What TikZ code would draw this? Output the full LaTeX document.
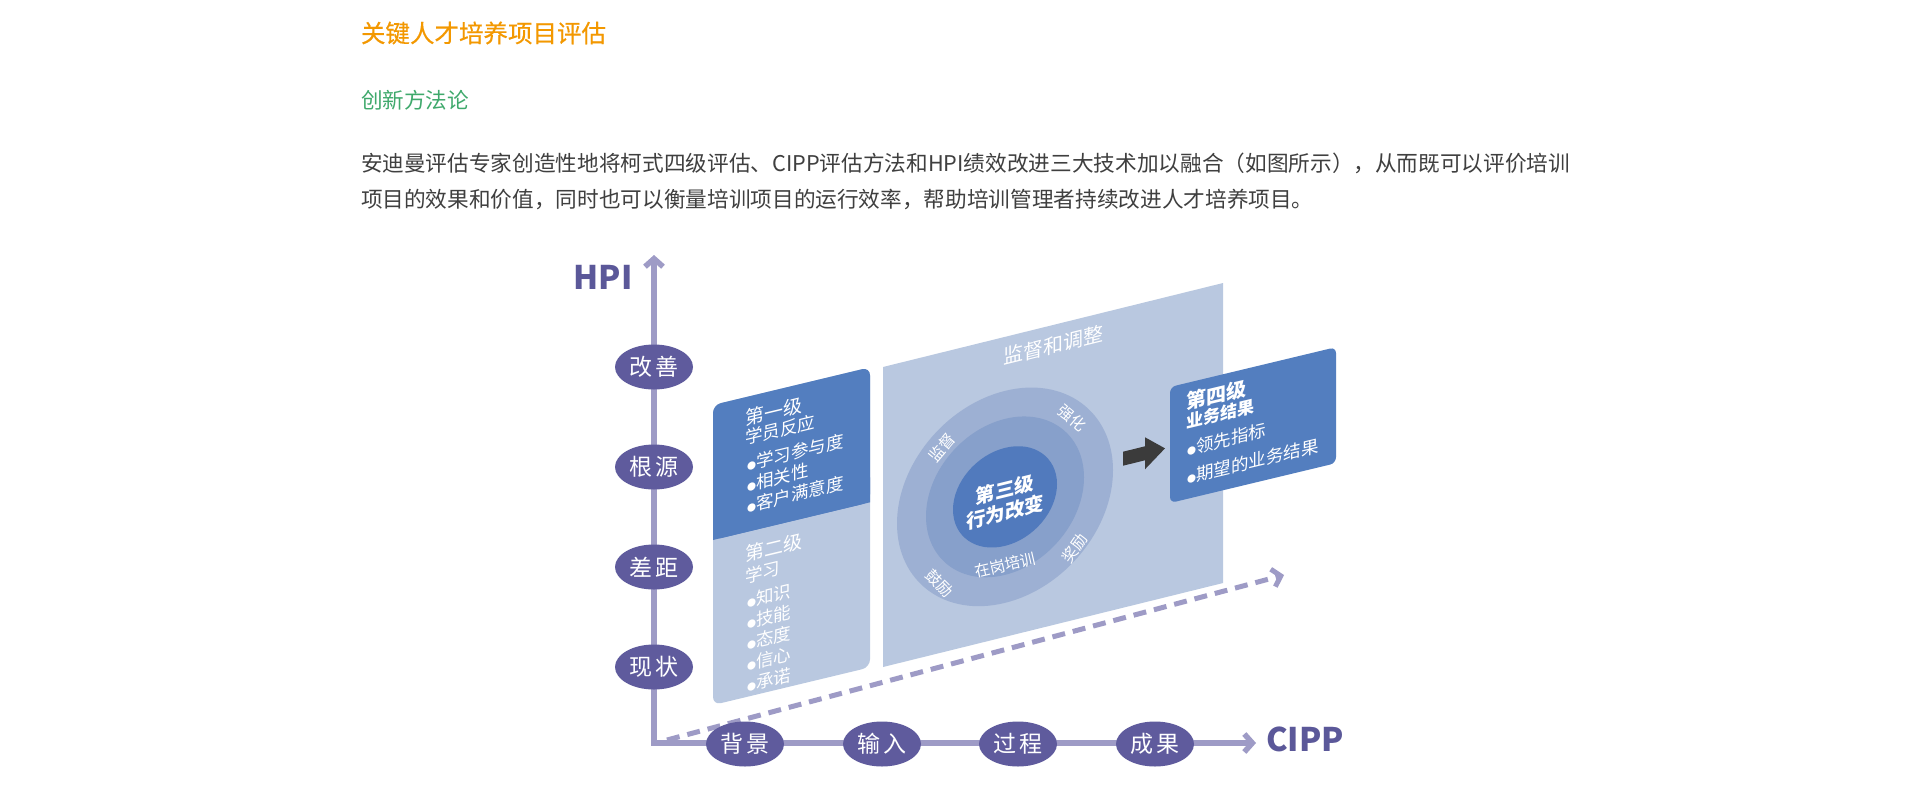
\documentclass[tikz,border=0pt]{standalone}
\usepackage{fontspec}
\setmainfont{Noto Sans CJK SC}
\newfontfamily\titlefont[FakeBold=0.35]{Noto Sans CJK SC}
\usetikzlibrary{arrows.meta,shapes.geometric}
\definecolor{titleorange}{HTML}{F39800}
\definecolor{headgreen}{HTML}{3FA96C}
\definecolor{bodygray}{HTML}{3F3F3F}
\definecolor{axispurple}{HTML}{9E9BC6}
\definecolor{ovalpurple}{HTML}{5F5B9D}
\definecolor{labelpurple}{HTML}{5B5899}
\definecolor{deepblue}{HTML}{537EBF}
\definecolor{paleblue}{HTML}{B9C8E0}
\definecolor{ringouter}{HTML}{9DB0D3}
\definecolor{ringmid}{HTML}{87A0CB}
\definecolor{ringinner}{HTML}{517ABD}
\definecolor{arrowgray}{HTML}{3B3B3B}
\newcommand{\fsz}[1]{\fontsize{#1}{#1}\selectfont}
\newcommand{\bul}{{\fsz{9}●}}
\begin{document}
\begin{tikzpicture}[x=1pt,y=-1pt,
  every node/.style={inner sep=0pt,outer sep=0pt},
  axisline/.style={draw=axispurple,line width=5.5pt},
  barbtip/.style={-{Straight Barb[length=8pt,width=18pt]}},
  oval/.style={ellipse,fill=ovalpurple,minimum width=78pt,minimum height=45pt,text=white,font=\fsz{23}},
  axislabel/.style={text=labelpurple,font=\fsz{32.5}\bfseries},
  paneltext/.style={anchor=west,text=white,transform shape,font=\fsz{17.5}},
  panelhead/.style={anchor=west,text=white,transform shape,font=\fsz{19}},
  ringtext/.style={text=white,font=\fsz{15.5}},
]
\useasboundingbox[fill=white] (0,0) rectangle (1920,798);
% top text
\node[anchor=west,text=titleorange,font=\titlefont\fsz{24.5}] (title) at (361,33) {关键人才培养项目评估};
\node[anchor=west,text=headgreen,font=\fsz{21.6}] (sub) at (361,100) {创新方法论};
\node[anchor=west,text=bodygray,font=\fsz{21.65}] (para1) at (361,163) {安迪曼评估专家创造性地将柯式四级评估、CIPP评估方法和HPI绩效改进三大技术加以融合（如图所示），从而既可以评价培训};
\node[anchor=west,text=bodygray,font=\fsz{21.65}] (para2) at (361,199) {项目的效果和价值，同时也可以衡量培训项目的运行效率，帮助培训管理者持续改进人才培养项目。};

% axes
\coordinate (hpiTip) at (654,255);
\coordinate (axisOrigin) at (654,743);
\coordinate (cippTip) at (1256,743);
\draw[axisline,line join=miter,{Straight Barb[length=8pt,width=18pt]}-{Straight Barb[length=8pt,width=18pt]}] (hpiTip) -- (axisOrigin) -- (cippTip);
\coordinate (dashStart) at (667,740);
\coordinate (dashTip) at (1284,575);
\draw[draw=axispurple,line width=5pt,dash pattern=on 13pt off 8pt,barbtip] (dashStart) -- (dashTip);

\node[axislabel] (hpi) at (603,277) {HPI};
\node[axislabel] (cipp) at (1305,739) {CIPP};

% left panel: levels 1 and 2
\begin{scope}[shift={(713,405)},yslant=0.24]
  \fill[paleblue,rounded corners=8pt] (0,0) rectangle (157,300);
  \fill[deepblue,rounded corners=8pt] (0,0) rectangle (157,135);
  \fill[deepblue] (0,110) rectangle (157,135);
  \node[panelhead] (l1a) at (32,21) {第一级};
  \node[paneltext] (l1b) at (32,41) {学员反应};
  \node[paneltext] (l1c) at (34,67) {\bul 学习参与度};
  \node[paneltext] (l1d) at (34,88) {\bul 相关性};
  \node[paneltext] (l1e) at (34,109) {\bul 客户满意度};
  \node[panelhead] (l2a) at (32,157) {第二级};
  \node[paneltext] (l2b) at (32,179) {学习};
  \node[paneltext] (l2c) at (34,204) {\bul 知识};
  \node[paneltext] (l2d) at (34,225) {\bul 技能};
  \node[paneltext] (l2e) at (34,246) {\bul 态度};
  \node[paneltext] (l2f) at (34,267) {\bul 信心};
  \node[paneltext] (l2g) at (34,288) {\bul 承诺};
\end{scope}

% middle panel: level 3
\begin{scope}[shift={(883,367)},yslant=0.247]
  \fill[paleblue] (0,0) rectangle (340,300);
  \node[text=white,transform shape,font=\fsz{20}] (monitor) at (170,20) {监督和调整};
  \fill[ringouter] (122,160) ellipse [x radius=108pt,y radius=106pt];
  \fill[ringmid] (122,160) ellipse [x radius=79pt,y radius=78pt];
  \fill[ringinner] (122,160) ellipse [x radius=52pt,y radius=49pt];
  \node[text=white,transform shape,font=\fsz{19.5}\bfseries] (l3a) at (122,153) {第三级};
  \node[text=white,transform shape,font=\fsz{19.5}\bfseries] (l3b) at (122,175) {行为改变};
  \fill[arrowgray] (240,144) -- (262,144) -- (262,135) -- (282,151) -- (262,167) -- (262,158) -- (240,158) -- cycle;
\end{scope}
\node[ringtext,rotate=50] (rlA) at (942,448) {监督};
\node[ringtext,rotate=-40] (rlB) at (1072,418) {强化};
\node[ringtext,rotate=55] (rlC) at (1075,548) {奖励};
\node[ringtext,rotate=-45] (rlD) at (940,583) {鼓励};
\node[ringtext,rotate=13] (rlE) at (1005,565) {在岗培训};

% right box: level 4
\begin{scope}[shift={(1170,387)},yslant=0.24]
  \fill[deepblue,rounded corners=6pt] (0,0) rectangle (166,116);
  \node[anchor=west,text=white,transform shape,font=\fsz{20}\bfseries] (l4a) at (16,19) {第四级};
  \node[anchor=west,text=white,transform shape,font=\fsz{17}\bfseries] (l4b) at (16,39) {业务结果};
  \node[paneltext] (l4c) at (17,66) {\bul 领先指标};
  \node[paneltext] (l4d) at (17,94) {\bul 期望的业务结果};
\end{scope}

% axis ovals
\node[oval] (hpiA) at (654,367) {改\hspace{4pt}善};
\node[oval] (hpiB) at (654,467) {根\hspace{4pt}源};
\node[oval] (hpiC) at (654,567) {差\hspace{4pt}距};
\node[oval] (hpiD) at (654,667) {现\hspace{4pt}状};
\node[oval] (cippA) at (745,744) {背\hspace{4pt}景};
\node[oval] (cippB) at (882,744) {输\hspace{4pt}入};
\node[oval] (cippC) at (1018,744) {过\hspace{4pt}程};
\node[oval] (cippD) at (1155,744) {成\hspace{4pt}果};
\end{tikzpicture}
\end{document}
